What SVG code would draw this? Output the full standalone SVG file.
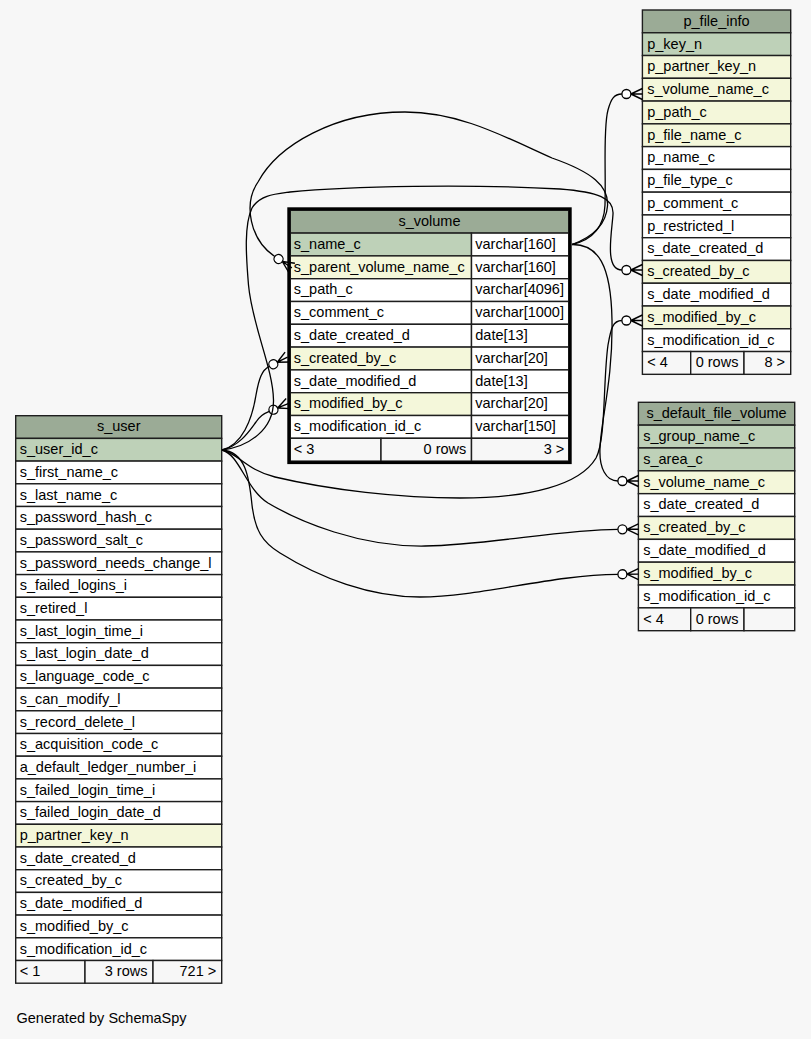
<svg xmlns="http://www.w3.org/2000/svg" width="811" height="1039" viewBox="0 0 811 1039">
<defs>
<style>
.c{stroke:#1e1e1e;stroke-width:1.4}
.h{fill:#9bab96}
.pk{fill:#bed1b8}
.fk{fill:#f4f7da}
.n{fill:#ffffff}
.f{fill:#f7f7f7}
text{font-family:"Liberation Sans",Arial,sans-serif;font-size:14.5px;fill:#000}
.m{text-anchor:middle}
.r{text-anchor:end}
.e{fill:none;stroke:#000;stroke-width:1.3}
</style>
<marker id="crowodot" markerUnits="userSpaceOnUse" orient="auto" markerWidth="26" markerHeight="18" refX="2" refY="9" overflow="visible">
<path d="M11,9 L22.5,3.5 M11,9 L22.5,9 M11,9 L22.5,14.5" fill="none" stroke="#000" stroke-width="1.4"/>
<circle cx="6.5" cy="9" r="4.5" fill="#ffffff" stroke="#000" stroke-width="1.3"/>
</marker>
</defs>
<rect x="0" y="0" width="811" height="1039" fill="#f7f7f7"/>

<g id="s_user">
<g transform="translate(15.7,415.7)"><rect class="c h" width="206" height="22.7"/><text x="103" y="15.8" class="m">s_user</text></g>
<g transform="translate(15.7,438.4)"><rect class="c pk" width="206" height="22.7"/><text x="4" y="15.8">s_user_id_c</text></g>
<g transform="translate(15.7,461.1)"><rect class="c n" width="206" height="22.7"/><text x="4" y="15.8">s_first_name_c</text></g>
<g transform="translate(15.7,483.8)"><rect class="c n" width="206" height="22.7"/><text x="4" y="15.8">s_last_name_c</text></g>
<g transform="translate(15.7,506.5)"><rect class="c n" width="206" height="22.7"/><text x="4" y="15.8">s_password_hash_c</text></g>
<g transform="translate(15.7,529.2)"><rect class="c n" width="206" height="22.7"/><text x="4" y="15.8">s_password_salt_c</text></g>
<g transform="translate(15.7,551.9)"><rect class="c n" width="206" height="22.7"/><text x="4" y="15.8">s_password_needs_change_l</text></g>
<g transform="translate(15.7,574.6)"><rect class="c n" width="206" height="22.7"/><text x="4" y="15.8">s_failed_logins_i</text></g>
<g transform="translate(15.7,597.3)"><rect class="c n" width="206" height="22.7"/><text x="4" y="15.8">s_retired_l</text></g>
<g transform="translate(15.7,620.0)"><rect class="c n" width="206" height="22.7"/><text x="4" y="15.8">s_last_login_time_i</text></g>
<g transform="translate(15.7,642.7)"><rect class="c n" width="206" height="22.7"/><text x="4" y="15.8">s_last_login_date_d</text></g>
<g transform="translate(15.7,665.4)"><rect class="c n" width="206" height="22.7"/><text x="4" y="15.8">s_language_code_c</text></g>
<g transform="translate(15.7,688.1)"><rect class="c n" width="206" height="22.7"/><text x="4" y="15.8">s_can_modify_l</text></g>
<g transform="translate(15.7,710.8)"><rect class="c n" width="206" height="22.7"/><text x="4" y="15.8">s_record_delete_l</text></g>
<g transform="translate(15.7,733.5)"><rect class="c n" width="206" height="22.7"/><text x="4" y="15.8">s_acquisition_code_c</text></g>
<g transform="translate(15.7,756.2)"><rect class="c n" width="206" height="22.7"/><text x="4" y="15.8">a_default_ledger_number_i</text></g>
<g transform="translate(15.7,778.9)"><rect class="c n" width="206" height="22.7"/><text x="4" y="15.8">s_failed_login_time_i</text></g>
<g transform="translate(15.7,801.6)"><rect class="c n" width="206" height="22.7"/><text x="4" y="15.8">s_failed_login_date_d</text></g>
<g transform="translate(15.7,824.3)"><rect class="c fk" width="206" height="22.7"/><text x="4" y="15.8">p_partner_key_n</text></g>
<g transform="translate(15.7,847.0)"><rect class="c n" width="206" height="22.7"/><text x="4" y="15.8">s_date_created_d</text></g>
<g transform="translate(15.7,869.7)"><rect class="c n" width="206" height="22.7"/><text x="4" y="15.8">s_created_by_c</text></g>
<g transform="translate(15.7,892.4)"><rect class="c n" width="206" height="22.7"/><text x="4" y="15.8">s_date_modified_d</text></g>
<g transform="translate(15.7,915.1)"><rect class="c n" width="206" height="22.7"/><text x="4" y="15.8">s_modified_by_c</text></g>
<g transform="translate(15.7,937.8)"><rect class="c n" width="206" height="22.7"/><text x="4" y="15.8">s_modification_id_c</text></g>
<g transform="translate(15.7,960.5)"><rect class="c f" width="69.3" height="22.7"/><rect class="c f" x="69.3" width="68" height="22.7"/><rect class="c f" x="137.3" width="68.7" height="22.7"/><text x="4" y="15.8">&lt; 1</text><text x="131.8" y="15.8" class="r">3 rows</text><text x="200.5" y="15.8" class="r">721 &gt;</text></g>
</g>

<g id="s_volume">
<g transform="translate(290.3,210.3)"><rect class="c h" width="278.4" height="22.8"/><text x="139.2" y="15.8" class="m">s_volume</text></g>
<g transform="translate(290.3,233.1)"><rect class="c pk" width="181.2" height="22.8"/><rect class="c n" x="181.2" width="97.2" height="22.8"/><text x="3.5" y="15.8">s_name_c</text><text x="185" y="15.8">varchar[160]</text></g>
<g transform="translate(290.3,255.9)"><rect class="c fk" width="181.2" height="22.8"/><rect class="c n" x="181.2" width="97.2" height="22.8"/><text x="3.5" y="15.8">s_parent_volume_name_c</text><text x="185" y="15.8">varchar[160]</text></g>
<g transform="translate(290.3,278.7)"><rect class="c n" width="181.2" height="22.8"/><rect class="c n" x="181.2" width="97.2" height="22.8"/><text x="3.5" y="15.8">s_path_c</text><text x="185" y="15.8">varchar[4096]</text></g>
<g transform="translate(290.3,301.5)"><rect class="c n" width="181.2" height="22.8"/><rect class="c n" x="181.2" width="97.2" height="22.8"/><text x="3.5" y="15.8">s_comment_c</text><text x="185" y="15.8">varchar[1000]</text></g>
<g transform="translate(290.3,324.3)"><rect class="c n" width="181.2" height="22.8"/><rect class="c n" x="181.2" width="97.2" height="22.8"/><text x="3.5" y="15.8">s_date_created_d</text><text x="185" y="15.8">date[13]</text></g>
<g transform="translate(290.3,347.1)"><rect class="c fk" width="181.2" height="22.8"/><rect class="c n" x="181.2" width="97.2" height="22.8"/><text x="3.5" y="15.8">s_created_by_c</text><text x="185" y="15.8">varchar[20]</text></g>
<g transform="translate(290.3,369.9)"><rect class="c n" width="181.2" height="22.8"/><rect class="c n" x="181.2" width="97.2" height="22.8"/><text x="3.5" y="15.8">s_date_modified_d</text><text x="185" y="15.8">date[13]</text></g>
<g transform="translate(290.3,392.7)"><rect class="c fk" width="181.2" height="22.8"/><rect class="c n" x="181.2" width="97.2" height="22.8"/><text x="3.5" y="15.8">s_modified_by_c</text><text x="185" y="15.8">varchar[20]</text></g>
<g transform="translate(290.3,415.5)"><rect class="c n" width="181.2" height="22.8"/><rect class="c n" x="181.2" width="97.2" height="22.8"/><text x="3.5" y="15.8">s_modification_id_c</text><text x="185" y="15.8">varchar[150]</text></g>
<g transform="translate(290.3,438.3)"><rect class="c f" width="90.7" height="22.8"/><rect class="c f" x="90.7" width="90.5" height="22.8"/><rect class="c f" x="181.2" width="97.2" height="22.8"/><text x="3.5" y="15.8">&lt; 3</text><text x="176" y="15.8" class="r">0 rows</text><text x="274" y="15.8" class="r">3 &gt;</text></g>
<rect x="288.8" y="208.8" width="281.4" height="253.8" fill="none" stroke="#000" stroke-width="3"/>
</g>

<g id="p_file_info">
<g transform="translate(642.4,10)"><rect class="c h" width="148.3" height="22.77"/><text x="74.15" y="15.8" class="m">p_file_info</text></g>
<g transform="translate(642.4,32.77)"><rect class="c pk" width="148.3" height="22.77"/><text x="4.8" y="15.8">p_key_n</text></g>
<g transform="translate(642.4,55.54)"><rect class="c fk" width="148.3" height="22.77"/><text x="4.8" y="15.8">p_partner_key_n</text></g>
<g transform="translate(642.4,78.31)"><rect class="c fk" width="148.3" height="22.77"/><text x="4.8" y="15.8">s_volume_name_c</text></g>
<g transform="translate(642.4,101.08)"><rect class="c fk" width="148.3" height="22.77"/><text x="4.8" y="15.8">p_path_c</text></g>
<g transform="translate(642.4,123.85)"><rect class="c fk" width="148.3" height="22.77"/><text x="4.8" y="15.8">p_file_name_c</text></g>
<g transform="translate(642.4,146.62)"><rect class="c n" width="148.3" height="22.77"/><text x="4.8" y="15.8">p_name_c</text></g>
<g transform="translate(642.4,169.39)"><rect class="c n" width="148.3" height="22.77"/><text x="4.8" y="15.8">p_file_type_c</text></g>
<g transform="translate(642.4,192.16)"><rect class="c n" width="148.3" height="22.77"/><text x="4.8" y="15.8">p_comment_c</text></g>
<g transform="translate(642.4,214.93)"><rect class="c n" width="148.3" height="22.77"/><text x="4.8" y="15.8">p_restricted_l</text></g>
<g transform="translate(642.4,237.7)"><rect class="c n" width="148.3" height="22.77"/><text x="4.8" y="15.8">s_date_created_d</text></g>
<g transform="translate(642.4,260.47)"><rect class="c fk" width="148.3" height="22.77"/><text x="4.8" y="15.8">s_created_by_c</text></g>
<g transform="translate(642.4,283.24)"><rect class="c n" width="148.3" height="22.77"/><text x="4.8" y="15.8">s_date_modified_d</text></g>
<g transform="translate(642.4,306.01)"><rect class="c fk" width="148.3" height="22.77"/><text x="4.8" y="15.8">s_modified_by_c</text></g>
<g transform="translate(642.4,328.78)"><rect class="c n" width="148.3" height="22.77"/><text x="4.8" y="15.8">s_modification_id_c</text></g>
<g transform="translate(642.4,351.55)"><rect class="c f" width="48.3" height="22.77"/><rect class="c f" x="48.3" width="53.3" height="22.77"/><rect class="c f" x="101.6" width="46.7" height="22.77"/><text x="4.8" y="15.8">&lt; 4</text><text x="96" y="15.8" class="r">0 rows</text><text x="142.6" y="15.8" class="r">8 &gt;</text></g>
</g>

<g id="s_default_file_volume">
<g transform="translate(638.4,402.3)"><rect class="c h" width="156.3" height="22.84"/><text x="78.15" y="15.8" class="m">s_default_file_volume</text></g>
<g transform="translate(638.4,425.14)"><rect class="c pk" width="156.3" height="22.84"/><text x="4.8" y="15.8">s_group_name_c</text></g>
<g transform="translate(638.4,447.98)"><rect class="c pk" width="156.3" height="22.84"/><text x="4.8" y="15.8">s_area_c</text></g>
<g transform="translate(638.4,470.82)"><rect class="c fk" width="156.3" height="22.84"/><text x="4.8" y="15.8">s_volume_name_c</text></g>
<g transform="translate(638.4,493.66)"><rect class="c n" width="156.3" height="22.84"/><text x="4.8" y="15.8">s_date_created_d</text></g>
<g transform="translate(638.4,516.5)"><rect class="c fk" width="156.3" height="22.84"/><text x="4.8" y="15.8">s_created_by_c</text></g>
<g transform="translate(638.4,539.34)"><rect class="c n" width="156.3" height="22.84"/><text x="4.8" y="15.8">s_date_modified_d</text></g>
<g transform="translate(638.4,562.18)"><rect class="c fk" width="156.3" height="22.84"/><text x="4.8" y="15.8">s_modified_by_c</text></g>
<g transform="translate(638.4,585.02)"><rect class="c n" width="156.3" height="22.84"/><text x="4.8" y="15.8">s_modification_id_c</text></g>
<g transform="translate(638.4,607.86)"><rect class="c f" width="52.3" height="22.84"/><rect class="c f" x="52.3" width="53.3" height="22.84"/><rect class="c f" x="105.6" width="50.7" height="22.84"/><text x="4.8" y="15.8">&lt; 4</text><text x="100" y="15.8" class="r">0 rows</text></g>
</g>

<g id="connectors" class="e">
<path marker-end="url(#crowodot)" d="M572,244.5 C590,238 606,226 607.5,206 C609,186 592,172 552,158 C505,137 460,112 405,112 C335,112 278,145 258,182 C243,204 250,240 274.8,256.5"/>
<path marker-end="url(#crowodot)" d="M572,244.5 C592,240 604,228 605,205 C606,170 603,128 608,110 C611,99 614,94 621.9,94"/>
<path marker-end="url(#crowodot)" d="M572,244.5 C598,244 611,265 612,320 C613,380 601,420 600,448 C599,468 606,481 617.9,481"/>
<path marker-end="url(#crowodot)" d="M222,450 C242,445 252,420 256,395 C259,378 262,370 269.3,366.3"/>
<path marker-end="url(#crowodot)" d="M222,450 C240,446 250,430 256,422 C260,416 263,414 269.3,411.4"/>
<path marker-end="url(#crowodot)" d="M222,450 C248,447 274,430 273.5,400 C273,368 252,325 248.5,285 C246,255 244,225 252,208 C260,195 275,194 290,192 C350,186 470,184 560,189 C598,192 614,198 613,214 C612,232 604,270 621.9,270"/>
<path marker-end="url(#crowodot)" d="M222,450 C238,453 246,470 275,477 C330,490 400,498 460,498 C530,498 580,485 596,458 C606,440 603,380 608,345 C611,328 613,320.5 621.9,320.5"/>
<path marker-end="url(#crowodot)" d="M222,450 C240,455 245,488 268,503 C300,522 360,547 425,546 C490,545 560,529.3 617.9,529.3"/>
<path marker-end="url(#crowodot)" d="M222,450 C245,452 249,475 252,505 C255,530 262,542 280,553 C320,578 370,597 420,597 C480,597 550,575 617.9,574.3"/>
</g>

<text x="16.5" y="1023.3">Generated by SchemaSpy</text>
</svg>
